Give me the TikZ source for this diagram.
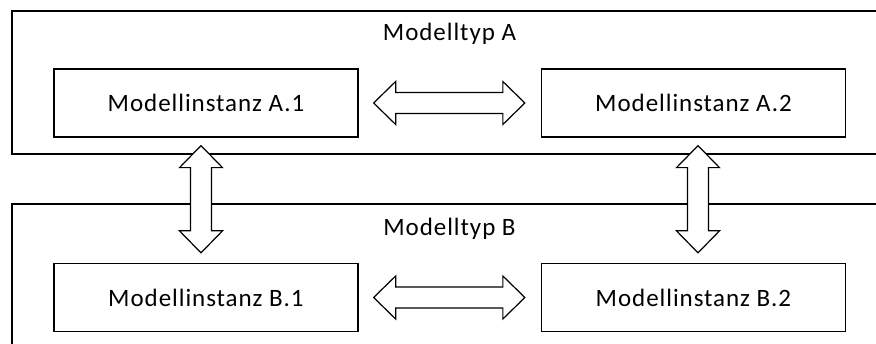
\documentclass[tikz,border=0pt]{standalone}
\usepackage{fontspec}
\setmainfont{Carlito}[LetterSpace=3.8]
\usetikzlibrary{calc}

\tikzset{
  x=1pt, y=1pt,
  frame/.style={draw, line width=1.3pt},
  instbox/.style={draw, line width=1.3pt, minimum width=304pt, minimum height=68pt,
                  inner sep=0pt, font=\fontsize{25}{29}\selectfont},
  typlabel/.style={anchor=base, inner sep=0pt, font=\fontsize{25}{29}\selectfont},
  fatarrow/.style={draw, line width=1.2pt, line join=miter, fill=white}
}

% Hollow double arrow, horizontal, between two points (same y)
\newcommand\hdblarrow[2]{%
  \path[fatarrow] let \p1=(#1), \p2=(#2) in
    (\x1,\y1) -- (\x1+22pt,\y1+21.5pt) -- (\x1+22pt,\y1+10.5pt)
    -- (\x2-22pt,\y1+10.5pt) -- (\x2-22pt,\y1+21.5pt) -- (\x2,\y1)
    -- (\x2-22pt,\y1-21.5pt) -- (\x2-22pt,\y1-10.5pt)
    -- (\x1+22pt,\y1-10.5pt) -- (\x1+22pt,\y1-21.5pt) -- cycle;}
% Hollow double arrow, vertical, from upper point to lower point
\newcommand\vdblarrow[2]{%
  \path[fatarrow] let \p1=(#1), \p2=(#2) in
    (\x1,\y1) -- (\x1+21.5pt,\y1-22pt) -- (\x1+10.5pt,\y1-22pt)
    -- (\x1+10.5pt,\y2+22pt) -- (\x1+21.5pt,\y2+22pt) -- (\x1,\y2)
    -- (\x1-21.5pt,\y2+22pt) -- (\x1-10.5pt,\y2+22pt)
    -- (\x1-10.5pt,\y1-22pt) -- (\x1-21.5pt,\y1-22pt) -- cycle;}

\begin{document}
\begin{tikzpicture}
\useasboundingbox (0,0) rectangle (876,-344);
\clip (0,0) rectangle (876,-344);
\fill[white] (0,0) rectangle (876,-344);

% model type frames (open to the right / bottom)
\draw[frame] (12,-11) rectangle (890,-154);
\draw[frame] (12,-204) rectangle (890,-360);
\node[typlabel] (typA) at (449.5,-41) {Modelltyp A};
\node[typlabel] (typB) at (449.5,-236) {Modelltyp B};

% model instances
\node[instbox] (a1) at (206,-103) {Modellinstanz A.1};
\node[instbox] (a2) at (693.5,-103) {Modellinstanz A.2};
\node[instbox] (b1) at (206,-297.5) {Modellinstanz B.1};
\node[instbox] (b2) at (693.5,-297.5) {Modellinstanz B.2};

% anchor points of the exchange arrows
\coordinate (ha1) at ($(a1.east)+(15,0)$);
\coordinate (ha2) at ($(a2.west)+(-16,0)$);
\coordinate (hb1) at ($(b1.east)+(15,0)$);
\coordinate (hb2) at ($(b2.west)+(-16,0)$);
\coordinate (vl1) at ($(a1.south)+(-5,-8)$);
\coordinate (vl2) at ($(b1.north)+(-5,10)$);
\coordinate (vr1) at ($(a2.south)+(4.5,-8)$);
\coordinate (vr2) at ($(b2.north)+(4.5,10)$);

\hdblarrow{ha1}{ha2}
\hdblarrow{hb1}{hb2}
\vdblarrow{vl1}{vl2}
\vdblarrow{vr1}{vr2}
\end{tikzpicture}
\end{document}
